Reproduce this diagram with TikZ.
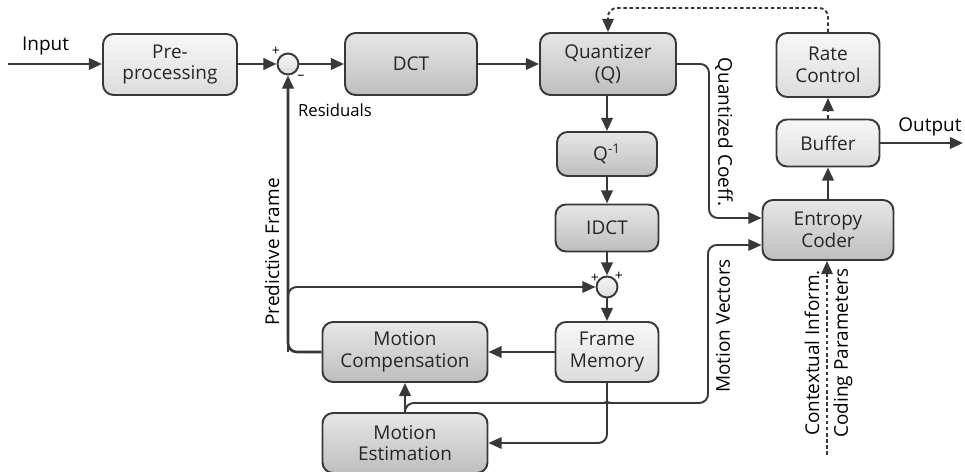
\documentclass[tikz,border=0pt]{standalone}
\usepackage{fontspec}
\setmainfont{Open Sans}
\usetikzlibrary{positioning,arrows.meta}

\definecolor{edge}{HTML}{383838}
\definecolor{darktop}{HTML}{E6E6E6}
\definecolor{darkbot}{HTML}{BEBEBE}
\definecolor{lighttop}{HTML}{F7F7F7}
\definecolor{lightbot}{HTML}{DCDCDC}

\begin{document}
\begin{tikzpicture}[x=0.02cm, y=-0.02cm,
    font=\fontsize{10.8}{12.2}\selectfont,
    blk/.style={rectangle, rounded corners=6pt, draw=edge, line width=1.1pt, align=center, inner sep=1pt, text=black!85, top color=darktop, bottom color=darkbot},
    lblk/.style={blk, top color=lighttop, bottom color=lightbot},
    sumc/.style={circle, draw=edge, line width=1.1pt, minimum size=0.42cm, inner sep=0pt, top color=lighttop, bottom color=lightbot},
    mainln/.style={draw=edge, line width=1.5pt, -{Stealth[length=7.5pt,width=6.5pt,inset=0pt]}},
    sideln/.style={draw=edge, line width=1.1pt, -{Stealth[length=7.5pt,width=6.5pt,inset=0pt]}, rounded corners=5pt},
    dotln/.style={sideln, dash pattern=on 2pt off 1.5pt},
    sign/.style={font=\fontsize{8}{8}\selectfont, inner sep=0pt}]
\begin{scope}
    \useasboundingbox (0,0) rectangle (965,472);

    % blocks
    \node (pre) at (170,64.5) [lblk, minimum width=2.68cm, minimum height=1.22cm] {Pre-\\processing};
    \node (sa) at (288,64) [sumc] {};
    \node (dct) at (411,64) [blk, minimum width=2.64cm, minimum height=1.24cm] {DCT};
    \node (qz) at (608,64) [blk, minimum width=2.72cm, minimum height=1.24cm] {Quantizer\\(Q)};
    \node (qi) at (607,154) [blk, minimum width=2.0cm, minimum height=0.88cm] {Q\textsuperscript{-1}};
    \node (idct) at (607,228) [blk, minimum width=2.06cm, minimum height=0.94cm] {IDCT};
    \node (sb) at (607,287) [sumc] {};
    \node (fm) at (607,352) [lblk, minimum width=2.06cm, minimum height=1.2cm] {Frame\\Memory};
    \node (mc) at (405,352) [blk, minimum width=3.3cm, minimum height=1.2cm] {Motion\\Compensation};
    \node (me) at (405,443) [blk, minimum width=3.3cm, minimum height=1.2cm] {Motion\\Estimation};
    \node (rc) at (828,65) [lblk, minimum width=2.06cm, minimum height=1.28cm] {Rate\\Control};
    \node (buf) at (828,143) [lblk, minimum width=2.06cm, minimum height=0.94cm] {Buffer};
    \node (ec) at (828,230) [blk, minimum width=2.62cm, minimum height=1.2cm] {Entropy\\Coder};

    % free ends
    \coordinate (in) at (8,64);
    \coordinate (out) at (963,143);
    \coordinate (ctx) at (827,455);
    \coordinate (mcl) at (288,352);
    \coordinate (mvs) at (405,403);

    % main path
    \draw[mainln] (in) -- node[above=1pt, pos=0.4] {Input} (pre.west |- in);
    \draw[mainln] (pre.east |- sa) -- (sa.west);
    \draw[mainln] (sa.east) -- (dct.west);
    \draw[mainln] (dct.east) -- (qz.west);
    \draw[mainln] (qz.south -| qi) -- (qi.north);
    \draw[mainln] (qi.south) -- (idct.north);
    \draw[mainln] (idct.south) -- (sb.north);
    \draw[mainln] (sb.south) -- (fm.north);
    \draw[mainln, line width=1.3pt] (fm.west) -- (mc.east);
    \draw[mainln, rounded corners=5pt] (mc.west) -- (mcl) -- (sa.south);
    \draw[sideln] (mcl) |- (sb.west);
    \draw[mainln] (me.north) -- (mc.south);
    \draw[mainln] (buf.east) -- node[above=0pt, pos=0.6] {Output} (out);
    \draw[mainln] (ec.north) -- (buf.south);

    % side paths
    \draw[sideln] (qz.east) -- (709,64) -- (709,218) -- (ec.west |- 0,218);
    \draw[sideln] (me.north) -- (mvs) -- (596,403) .. controls (603,403) and (607,401) .. (607,395)
        .. controls (607,401) and (611,403) .. (618,403) -- (708,403) -- (708,245) -- (ec.west |- 0,245);
    \draw[sideln] (fm.south) -- (607,443) -- (me.east |- 0,443);
    \draw[dotln] (rc.north) -- (828,8) -- (608,8) -- (qz.north);
    \draw[dotln] (buf.north) -- (rc.south);
    \draw[dotln] (ctx) -- (ec.south -| ctx);

    % signs
    \node[sign] (p1) at (276,51) {+};
    \node[sign] (m1) at (301,77) {--};
    \node[sign] (p2) at (595,278) {+};
    \node[sign] (p3) at (619,276) {+};

    % labels
    \node (res) at (335,110) [font=\fontsize{9.5}{10}\selectfont] {Residuals};
    \node (pf) at (272,252) [rotate=90] {Predictive Frame};
    \node (qc) at (724,132) [rotate=-90] {Quantized Coeff.};
    \node (mv) at (723,326) [rotate=90] {Motion Vectors};
    \node (ci) at (812,353) [rotate=90] {Contextual Inform.};
    \node (cp) at (843,353) [rotate=90] {Coding Parameters};
\end{scope}
\end{tikzpicture}
\end{document}
